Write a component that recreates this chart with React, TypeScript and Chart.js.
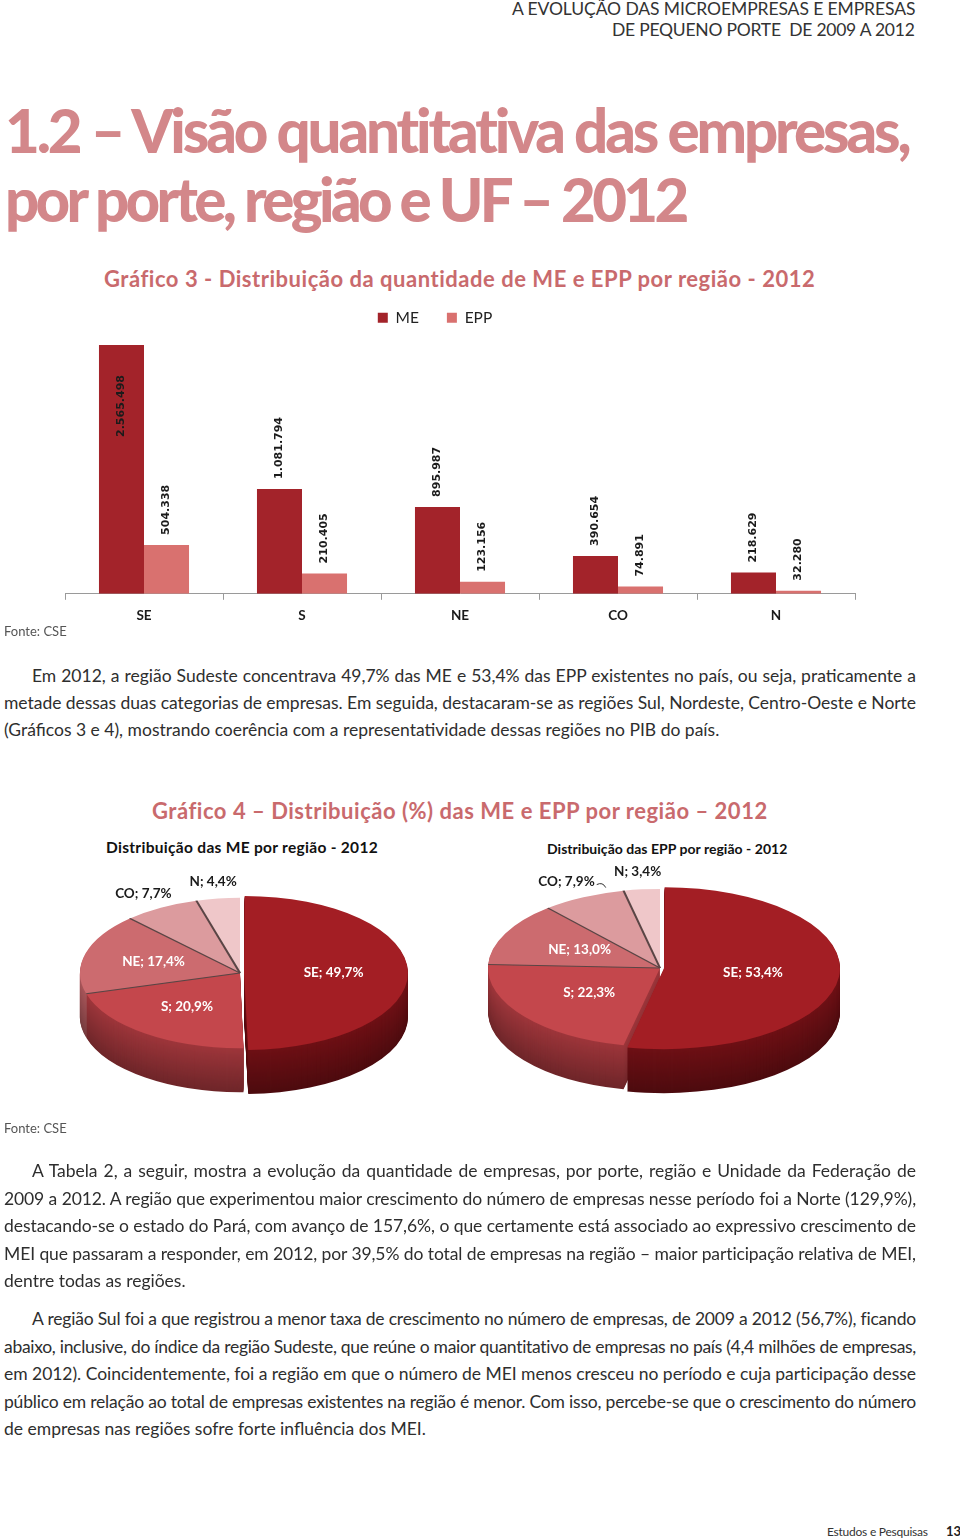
import React, { useEffect, useLayoutEffect, useRef } from "react";
import { Chart, registerables } from "chart.js";

Chart.register(...registerables);

// ---------------- data ----------------
const REGIONS = ["SE", "S", "NE", "CO", "N"];
const SERIES_NAMES = ["ME", "EPP"];
const ME_COUNTS = [2565498, 1081794, 895987, 390654, 218629];
const EPP_COUNTS = [504338, 210405, 123156, 74891, 32280];
const ME_SHARE = [49.7, 20.9, 17.4, 7.7, 4.4];
const EPP_SHARE = [53.4, 22.3, 13.0, 7.9, 3.4];
const BAR_Y_MAX = 2664000;

const HEADER_LINES = ["A EVOLUÇÃO DAS MICROEMPRESAS E EMPRESAS", "DE PEQUENO PORTE  DE 2009 A 2012"];
const TITLE_LINES = ["1.2 – Visão quantitativa das empresas,", "por porte, região e UF – 2012"];
const CHART3_TITLE = "Gráfico 3 - Distribuição da quantidade de ME e EPP por região - 2012";
const CHART4_TITLE = "Gráfico 4 – Distribuição (%) das ME e EPP por região – 2012";
const PIE_ME_TITLE = "Distribuição das ME por região - 2012";
const PIE_EPP_TITLE = "Distribuição das EPP por região - 2012";
const SOURCE = "Fonte: CSE";
const PARA1 = [
  "Em 2012, a região Sudeste concentrava 49,7% das ME e 53,4% das EPP existentes no país, ou seja, praticamente a",
  "metade dessas duas categorias de empresas. Em seguida, destacaram-se as regiões Sul, Nordeste, Centro-Oeste e Norte",
  "(Gráficos 3 e 4), mostrando coerência com a representatividade dessas regiões no PIB do país.",
];
const PARA2 = [
  "A Tabela 2, a seguir, mostra a evolução da quantidade de empresas, por porte, região e Unidade da Federação de",
  "2009 a 2012. A região que experimentou maior crescimento do número de empresas nesse período foi a Norte (129,9%),",
  "destacando-se o estado do Pará, com avanço de 157,6%, o que certamente está associado ao expressivo crescimento de",
  "MEI que passaram a responder, em 2012, por 39,5% do total de empresas na região – maior participação relativa de MEI,",
  "dentre todas as regiões.",
];
const PARA3 = [
  "A região Sul foi a que registrou a menor taxa de crescimento no número de empresas, de 2009 a 2012 (56,7%), ficando",
  "abaixo, inclusive, do índice da região Sudeste, que reúne o maior quantitativo de empresas no país (4,4 milhões de empresas,",
  "em 2012). Coincidentemente, foi a região em que o número de MEI menos cresceu no período e cuja participação desse",
  "público em relação ao total de empresas existentes na região é menor. Com isso, percebe-se que o crescimento do número",
  "de empresas nas regiões sofre forte influência dos MEI.",
];
const FOOTER_TEXT = "Estudos e Pesquisas";
const PAGE_NUMBER = "13";

// ---------------- styles ----------------
const LATO = "Lato, 'DejaVu Sans', sans-serif";
const BAR_COLORS = ["#a3232a", "#d9716f"];
const PIE_TOP = ["#a31e24", "#c4474c", "#cc6b6f", "#dc9b9e", "#efc7c9"];
const PIE_SIDE = ["#6e1015", "#9e363b", "#a9565a", "#b97d80", "#caa2a4"];
const TITLE_PINK = "#d3878a";
const CHART_TITLE_PINK = "#c96a6d";
const BODY = "#2e2e2e";

Chart.defaults.font.family = LATO;

const fmtInt = (n: number) => String(n).replace(/\B(?=(\d{3})+(?!\d))/g, ".");
const fmtPct = (v: number) => v.toFixed(1).replace(".", ",") + "%";

function shade(hex: string, f: number) {
  const h = hex.replace("#", "");
  const r = Math.round(parseInt(h.slice(0, 2), 16) * f);
  const g = Math.round(parseInt(h.slice(2, 4), 16) * f);
  const b = Math.round(parseInt(h.slice(4, 6), 16) * f);
  return `rgb(${r},${g},${b})`;
}

let measureCtx: CanvasRenderingContext2D | null = null;
function textWidth(text: string, font: string) {
  if (!measureCtx) measureCtx = document.createElement("canvas").getContext("2d");
  measureCtx!.font = font;
  return measureCtx!.measureText(text).width;
}

type LineProps = {
  text: string;
  x: number;
  base: number;
  size: number;
  width?: number;
  weight?: number;
  color?: string;
  justify?: boolean;
  fit?: boolean;
};

function Line({ text, x, base, size, width, weight = 400, color = BODY, justify = false, fit = false }: LineProps) {
  const font = `${weight} ${size}px ${LATO}`;
  const natural = textWidth(text, font);
  const n = Math.max(text.length - 1, 1);
  let ls = 0;
  if (width) {
    if (fit) ls = (width - natural) / n;
    else if (natural > width) ls = (width - natural) / n;
  }
  const w = width ?? natural + 4;
  return (
    <div
      style={{
        position: "absolute",
        left: x,
        top: base - 0.887 * size,
        width: w,
        height: size,
        lineHeight: size + "px",
        fontSize: size,
        fontFamily: LATO,
        fontWeight: weight,
        color,
        whiteSpace: "pre",
        letterSpacing: ls + "px",
        textAlign: justify ? "justify" : "left",
        textAlignLast: justify ? "justify" : "left",
      }}
    >
      {text}
    </div>
  );
}

function Paragraph({ lines, base, step }: { lines: string[]; base: number; step: number }) {
  return (
    <>
      {lines.map((t, i) => {
        const indent = i === 0 ? 28 : 0;
        return (
          <Line
            key={i}
            text={t}
            x={4 + indent}
            base={base + i * step}
            size={17.5}
            width={912 - indent}
            justify={i < lines.length - 1}
          />
        );
      })}
    </>
  );
}

// ---------------- bar chart ----------------
const barValueLabels = {
  id: "barValueLabels",
  afterDatasetsDraw(chart: any) {
    const ctx = chart.ctx as CanvasRenderingContext2D;
    ctx.save();
    ctx.font = "bold 11px 'DejaVu Sans'";
    ctx.fillStyle = "#1b1b1b";
    ctx.textBaseline = "middle";
    ctx.textAlign = "left";
    chart.data.datasets.forEach((ds: any, di: number) => {
      const meta = chart.getDatasetMeta(di);
      meta.data.forEach((bar: any, i: number) => {
        const text = fmtInt(ds.data[i]);
        const w = ctx.measureText(text).width;
        let start = bar.y - 10;
        if (start - w < 0) start = bar.y + 30 + w;
        ctx.save();
        ctx.translate(bar.x, start);
        ctx.rotate(-Math.PI / 2);
        ctx.fillText(text, 0, 0);
        ctx.restore();
      });
    });
    ctx.restore();
  },
};

const legendShift = {
  id: "legendShift",
  afterLayout(chart: any, _a: any, opts: any) {
    const lg = chart.legend;
    if (lg) {
      lg.left += opts.dx;
      lg.right += opts.dx;
    }
  },
};

function BarChart() {
  const ref = useRef<HTMLCanvasElement>(null);
  useEffect(() => {
    const chart = new Chart(ref.current!, {
      type: "bar",
      data: {
        labels: REGIONS,
        datasets: [
          { label: SERIES_NAMES[0], data: ME_COUNTS, backgroundColor: BAR_COLORS[0], categoryPercentage: 0.57, barPercentage: 1 },
          { label: SERIES_NAMES[1], data: EPP_COUNTS, backgroundColor: BAR_COLORS[1], categoryPercentage: 0.57, barPercentage: 1 },
        ],
      },
      options: {
        animation: false,
        responsive: false,
        layout: { padding: { left: 65, right: 5, top: 0, bottom: 0 } },
        plugins: {
          legend: {
            position: "top",
            labels: { boxWidth: 10, boxHeight: 10, padding: 28, color: "#222", font: { family: LATO, size: 15.5 } },
          },
          tooltip: { enabled: false },
          legendShift: { dx: -25 },
        } as any,
        scales: {
          x: {
            grid: { display: true, drawOnChartArea: false, color: "#9a9a9a", tickLength: 6 },
            border: { display: true, color: "#9a9a9a" },
            ticks: { color: "#1a1a1a", padding: 8, font: { family: LATO, size: 13.5, weight: "bold" } },
          },
          y: { display: false, min: 0, max: BAR_Y_MAX },
        },
      },
      plugins: [barValueLabels, legendShift],
    });
    return () => chart.destroy();
  }, []);
  return (
    <canvas
      ref={ref}
      width={860}
      height={350}
      style={{ position: "absolute", left: 0, top: 282, width: 860, height: 350 }}
    />
  );
}

// ---------------- 3D pies ----------------
const pie3d = {
  id: "pie3d",
  beforeDatasetsDraw(chart: any, _a: any, opts: any) {
    const ctx = chart.ctx as CanvasRenderingContext2D;
    const arcs = chart.getDatasetMeta(0).data as any[];
    if (!arcs.length) return;
    const cx = arcs[0].x;
    const cy = arcs[0].y;
    const k = opts.squash;
    for (let d = opts.depth; d >= 1; d--) {
      ctx.save();
      ctx.translate(cx, cy + d);
      ctx.scale(1, k);
      ctx.translate(-cx, -cy);
      const t = d / opts.depth;
      arcs.forEach((arc: any, i: number) => {
        const fake = Object.create(Object.getPrototypeOf(arc));
        Object.assign(fake, {
          x: arc.x,
          y: arc.y,
          startAngle: arc.startAngle,
          endAngle: arc.endAngle,
          innerRadius: arc.innerRadius,
          outerRadius: arc.outerRadius,
          circumference: arc.circumference,
        });
        fake.options = { ...arc.options, backgroundColor: shade(opts.sideColors[i], 1 - 0.3 * t), borderWidth: 0 };
        fake.draw(ctx);
      });
      ctx.restore();
    }
    ctx.save();
    ctx.translate(cx, cy);
    ctx.scale(1, k);
    ctx.translate(-cx, -cy);
  },
  afterDatasetsDraw(chart: any, _a: any, opts: any) {
    const ctx = chart.ctx as CanvasRenderingContext2D;
    const arcs = chart.getDatasetMeta(0).data as any[];
    if (!arcs.length) return;
    const k = opts.squash;
    ctx.strokeStyle = "#5a4545";
    ctx.lineWidth = 2.2;
    arcs.forEach((arc: any, i: number) => {
      if (i < 2) return;
      const a = arc.startAngle;
      ctx.beginPath();
      ctx.moveTo(arc.x, arc.y);
      ctx.lineTo(arc.x + arc.outerRadius * Math.cos(a), arc.y + arc.outerRadius * Math.sin(a));
      ctx.stroke();
    });
    ctx.restore();

    ctx.save();
    ctx.font = `bold 13.5px ${LATO}`;
    ctx.textAlign = "center";
    ctx.textBaseline = "middle";
    const data = chart.data.datasets[0].data as number[];
    arcs.forEach((arc: any, i: number) => {
      const share = data[i];
      const mid = (arc.startAngle + arc.endAngle) / 2;
      const inside = share >= 10;
      const f = inside ? opts.insideFrac : 1.22;
      const off = (arc.options.offset || 0) / 4;
      const r = off + f * arc.outerRadius;
      const x = arc.x + r * Math.cos(mid);
      const y = arc.y + k * r * Math.sin(mid);
      const text = `${chart.data.labels[i]}; ${fmtPct(share)}`;
      ctx.fillStyle = inside ? "#ffffff" : "#1a1a1a";
      ctx.fillText(text, x, y);
      if (opts.leaders && opts.leaders[i]) {
        const w = ctx.measureText(text).width;
        ctx.strokeStyle = "#333";
        ctx.lineWidth = 1;
        ctx.beginPath();
        ctx.moveTo(x + w / 2 + 2, y + 3);
        ctx.quadraticCurveTo(x + w / 2 + 8, y, x + w / 2 + 11, y + 6);
        ctx.stroke();
      }
    });
    ctx.restore();
  },
};

function Pie3D({ shares, cx, cy, radius, squash, depth, explode, insideFrac, leaders }: { shares: number[]; cx: number; cy: number; radius: number; squash: number; depth: number; explode: number; insideFrac: number; leaders?: boolean[] }) {
  const ref = useRef<HTMLCanvasElement>(null);
  const S = 400;
  useEffect(() => {
    const chart = new Chart(ref.current!, {
      type: "pie",
      data: {
        labels: REGIONS,
        datasets: [
          {
            data: shares,
            backgroundColor: PIE_TOP,
            borderWidth: 0,
            offset: shares.map((_, i) => (i === 0 ? explode : 0)),
          },
        ],
      },
      options: {
        animation: false,
        responsive: false,
        radius,
        layout: { padding: 0 },
        plugins: {
          legend: { display: false },
          tooltip: { enabled: false },
          pie3d: { squash, depth, sideColors: PIE_SIDE, insideFrac, leaders },
        } as any,
      } as any,
      plugins: [pie3d],
    });
    return () => chart.destroy();
  }, []);
  return (
    <canvas
      ref={ref}
      width={S}
      height={S}
      style={{ position: "absolute", left: cx - S / 2, top: cy - S / 2, width: S, height: S }}
    />
  );
}

export default function App() {
  useLayoutEffect(() => {
    document.body.style.margin = "0";
  }, []);
  return (
    <div style={{ position: "absolute", left: 0, top: 0, width: 960, height: 1540, overflow: "hidden", background: "#fff" }}>
      <Line text={HEADER_LINES[0]} x={512} base={16} size={17.5} width={404} fit color="#333" />
      <Line text={HEADER_LINES[1]} x={612} base={37} size={17.5} width={304} fit color="#333" />

      <Line text={TITLE_LINES[0]} x={5} base={153} size={60} width={911} fit weight={900} color={TITLE_PINK} />
      <Line text={TITLE_LINES[1]} x={5} base={222} size={60} width={687} fit weight={900} color={TITLE_PINK} />

      <Line text={CHART3_TITLE} x={104} base={288} size={22} width={712} fit weight={700} color={CHART_TITLE_PINK} />
      <BarChart />
      <Line text={SOURCE} x={4} base={637} size={13} color="#555" />

      <Paragraph lines={PARA1} base={683} step={27} />

      <Line text={CHART4_TITLE} x={152} base={820} size={22} width={616} fit weight={700} color={CHART_TITLE_PINK} />
      <Line text={PIE_ME_TITLE} x={106} base={854} size={15.5} width={272} fit weight={700} color="#111" />
      <Line text={PIE_EPP_TITLE} x={547} base={854} size={14} width={241} fit weight={700} color="#111" />
      <Pie3D shares={ME_SHARE} cx={240} cy={973} radius={160} squash={0.47} depth={44} explode={16} insideFrac={0.56} />
      <Pie3D shares={EPP_SHARE} cx={660} cy={968} radius={172} squash={0.46} depth={44} explode={16} insideFrac={0.52} leaders={[false, false, false, true, false]} />
      <Line text={SOURCE} x={4} base={1134} size={13} color="#555" />

      <Paragraph lines={PARA2} base={1178} step={27.4} />
      <Paragraph lines={PARA3} base={1326} step={27.4} />

      <Line text={FOOTER_TEXT} x={827} base={1537} size={12} width={101} fit color="#333" />
      <Line text={PAGE_NUMBER} x={946} base={1537} size={13} weight={700} color="#222" />
    </div>
  );
}
